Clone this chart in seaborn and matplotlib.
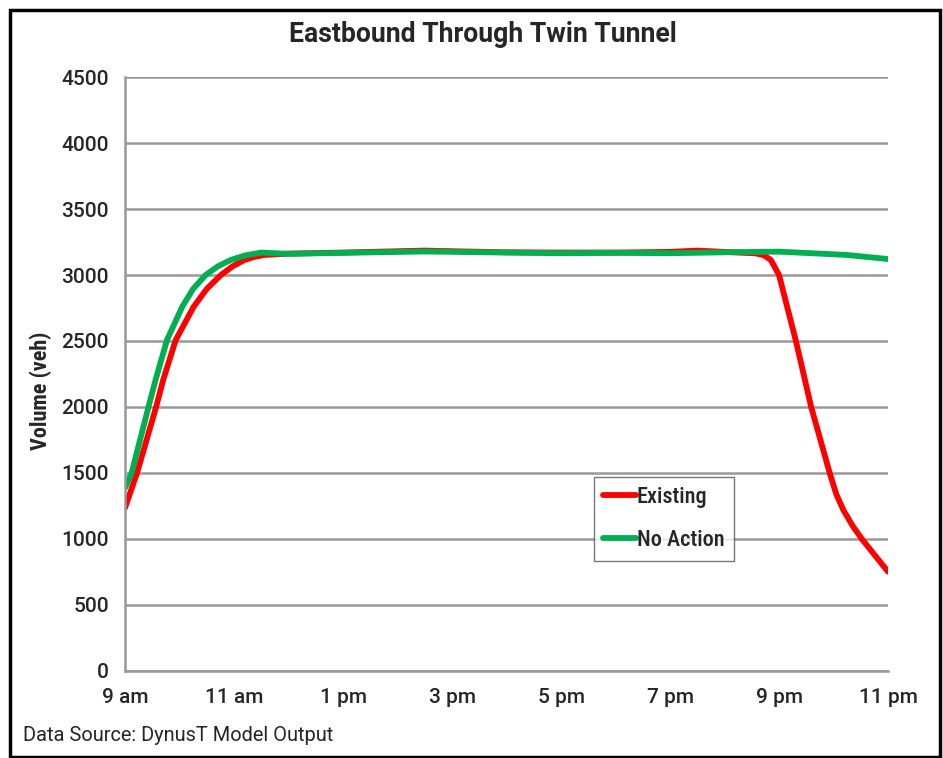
import matplotlib
matplotlib.use("Agg")
import matplotlib.pyplot as plt
import matplotlib.patches as mpatches
from matplotlib import font_manager
import pandas as pd
import seaborn as sns

# hours of the day (24h clock)
existing_time = [9, 9.22, 9.57, 9.70, 9.93, 10.26, 10.5, 10.76, 10.97, 11.19, 11.37, 11.56, 12,
                 13, 14, 14.5, 15, 16, 17, 18, 19, 19.5, 20, 20.57, 20.72, 20.85, 21.0, 21.31,
                 21.59, 21.76, 21.93, 22.05, 22.18, 22.35, 22.52, 23]
existing_vol = [1237, 1500, 2000, 2205, 2508, 2760, 2895, 3000, 3065, 3114, 3137, 3152, 3162,
                3170, 3180, 3185, 3180, 3172, 3170, 3170, 3175, 3185, 3175, 3164, 3150, 3114,
                3000, 2500, 2000, 1750, 1500, 1340, 1220, 1100, 1000, 752]

no_action_time = [9, 9.12, 9.43, 9.56, 9.77, 10.05, 10.25, 10.48, 10.7, 10.94, 11.2, 11.5, 12,
                  13, 14, 14.5, 15, 16, 17, 18, 19, 20, 21, 22.24, 23]
no_action_vol = [1386, 1500, 2000, 2205, 2508, 2760, 2895, 3000, 3065, 3114, 3148, 3170, 3160,
                 3168, 3175, 3178, 3176, 3170, 3165, 3168, 3165, 3172, 3177, 3152, 3121]

tick_hours = [9, 11, 13, 15, 17, 19, 21, 23]
tick_labels = ['9 am', '11 am', '1 pm', '3 pm', '5 pm', '7 pm', '9 pm', '11 pm']

df = pd.concat([
    pd.DataFrame({'Hour': existing_time, 'Volume': existing_vol, 'Scenario': 'Existing'}),
    pd.DataFrame({'Hour': no_action_time, 'Volume': no_action_vol, 'Scenario': 'No Action'}),
])


def has_bold(name):
    for f in font_manager.fontManager.ttflist:
        w = f.weight if isinstance(f.weight, int) else font_manager.weight_dict.get(f.weight, 400)
        if f.name == name and w >= 700 and f.style == 'normal':
            return True
    return False


narrow = next((c for c in ['Roboto Condensed', 'Fira Sans Condensed', 'Archivo Narrow']
               if has_bold(c)), 'Liberation Sans')
narrow_fam = [narrow, 'Liberation Sans', 'DejaVu Sans']
plain_fam = ['Roboto', 'Liberation Sans', 'DejaVu Sans']

sns.set_style('white')
plt.rcParams['font.family'] = plain_fam

fig = plt.figure(figsize=(9.43, 7.58), dpi=100)
ax = fig.add_axes([0.1326, 0.1148, 0.9417 - 0.1326, 0.8984 - 0.1148])

sns.lineplot(data=df, x='Hour', y='Volume', hue='Scenario',
             palette={'Existing': '#ff0000', 'No Action': '#00b050'},
             linewidth=4.2, ax=ax, legend=False)
for ln in ax.lines:
    ln.set_solid_joinstyle('round')
    ln.set_solid_capstyle('round')

ax.set_xlim(9, 23)
ax.set_ylim(0, 4500)
ax.set_yticks(range(0, 4501, 500))
ax.set_xticks(tick_hours)
ax.set_xticklabels(tick_labels)
ax.set_xticks(range(10, 23, 2), minor=True)
ax.grid(axis='y', color='#999999', linewidth=1.8)
ax.set_axisbelow(True)
for s in ['top', 'right']:
    ax.spines[s].set_visible(False)
for s in ['left', 'bottom']:
    ax.spines[s].set_color('#999999')
    ax.spines[s].set_linewidth(1.8)
ax.tick_params(axis='both', which='both', direction='out', length=5.5, width=1.2,
               color='#999999', labelsize=15)
ax.tick_params(axis='y', pad=6)
ax.tick_params(axis='x', pad=7)
for lbl in ax.get_xticklabels() + ax.get_yticklabels():
    lbl.set_fontweight('medium')
ax.set_xlabel('')
ax.set_ylabel('')

fig.text(0.512, 0.945, 'Eastbound Through Twin Tunnel', fontsize=19.2, fontweight='bold',
         ha='center', va='baseline')
fig.text(0.043, 0.485, 'Volume (veh)', fontsize=16, fontweight='bold', rotation=90,
         ha='center', va='center', family=narrow_fam)

handles = [plt.Line2D([], [], color='#ff0000', linewidth=4.2),
           plt.Line2D([], [], color='#00b050', linewidth=4.2)]
leg = fig.legend(handles, ['Existing', 'No Action'], loc='upper left',
                 bbox_to_anchor=(0.630, 0.371), borderaxespad=0,
                 prop={'family': narrow_fam, 'size': 16, 'weight': 'medium'},
                 frameon=True, fancybox=False, edgecolor='#555555',
                 handlelength=1.45, handletextpad=0.05, labelspacing=0.95, borderpad=0.42)
leg.get_frame().set_linewidth(1.0)

fig.text(0.024, 0.017, 'Data Source: DynusT Model Output', fontsize=14.4, ha='left',
         va='bottom')
fig.patches.append(mpatches.Rectangle((0.011, 0.001), 0.986, 0.986, transform=fig.transFigure,
                                      fill=False, edgecolor='black', linewidth=2.5))

fig.savefig('out.png', dpi=100)
